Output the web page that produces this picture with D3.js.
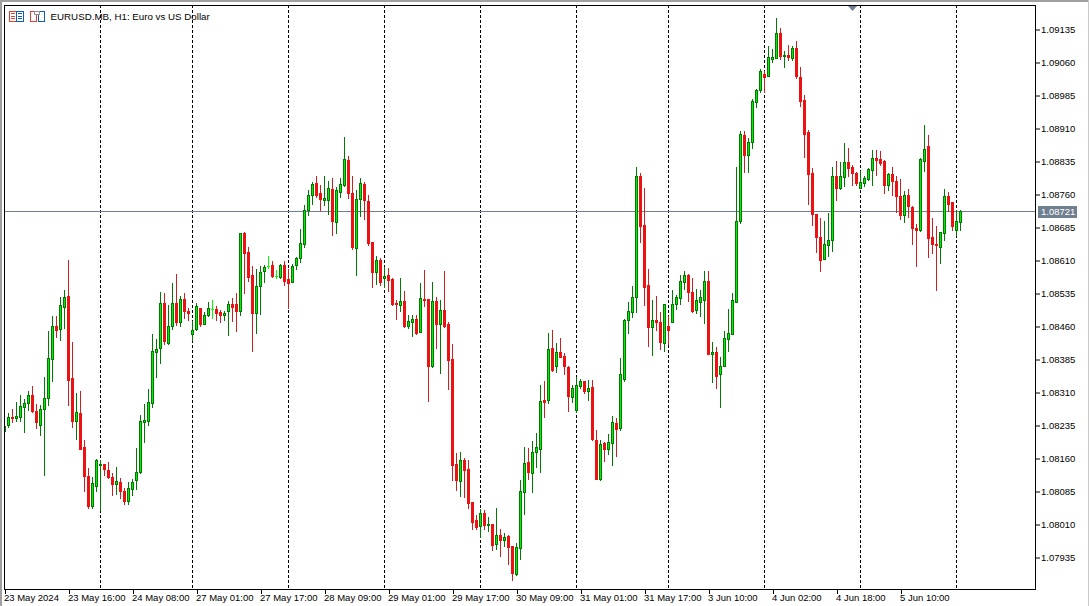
<!DOCTYPE html>
<html>
<head>
<meta charset="utf-8">
<script src="https://cdn.jsdelivr.net/npm/d3@7"></script>
<style>
html, body { margin: 0; padding: 0; background: #fff; overflow: hidden; }
text { font-family: "Liberation Sans", Arial, sans-serif; font-size: 9.5px; fill: #000; }
</style>
</head>
<body>
<script>
var opens = [
1.08222,1.08236,1.08253,1.08252,1.08254,1.08277,1.08284,1.08303,1.08266,1.08236,
1.08271,1.08296,1.08384,1.08459,1.08454,1.08504,1.08528,1.08341,1.08245,1.08262,
1.08184,1.08119,1.08052,1.08097,1.08146,1.08147,1.08133,1.08116,1.08100,1.08105,
1.08084,1.08063,1.08090,1.08109,1.08128,1.08241,1.08245,1.08286,1.08402,1.08409,
1.08512,1.08422,1.08459,1.08512,1.08468,1.08521,1.08494,1.08441,1.08454,1.08502,
1.08465,1.08485,1.08498,1.08498,1.08492,1.08484,1.08493,1.08510,1.08510,1.08493,
1.08671,1.08628,1.08575,1.08490,1.08550,1.08584,1.08596,1.08598,1.08573,1.08572,
1.08598,1.08566,1.08561,1.08598,1.08615,1.08647,1.08723,1.08757,1.08784,1.08762,
1.08747,1.08747,1.08771,1.08697,1.08765,1.08780,1.08837,1.08762,1.08638,1.08748,
1.08782,1.08745,1.08650,1.08583,1.08611,1.08570,1.08577,1.08566,1.08512,1.08508,
1.08516,1.08461,1.08470,1.08475,1.08447,1.08521,1.08521,1.08369,1.08516,1.08465,
1.08496,1.08464,1.08384,1.08146,1.08108,1.08155,1.08134,1.08059,1.08018,1.08006,
1.08034,1.08008,1.08009,1.07965,1.07984,1.07974,1.07982,1.07959,1.07897,1.07955,
1.08083,1.08150,1.08127,1.08174,1.08181,1.08291,1.08291,1.08409,1.08369,1.08400,
1.08391,1.08366,1.08299,1.08268,1.08324,1.08334,1.08313,1.08321,1.08201,1.08113,
1.08194,1.08181,1.08195,1.08240,1.08228,1.08340,1.08474,1.08492,1.08525,1.08800,
1.08689,1.08554,1.08458,1.08473,1.08468,1.08422,1.08461,1.08470,1.08510,1.08524,
1.08561,1.08577,1.08538,1.08497,1.08515,1.08520,1.08563,1.08397,1.08402,1.08350,
1.08370,1.08431,1.08442,1.08515,1.08698,1.08893,1.08849,1.08878,1.08969,1.08996,
1.09033,1.09029,1.09067,1.09070,1.09126,1.09074,1.09076,1.09070,1.09091,1.09027,
1.08973,1.08900,1.08807,1.08714,1.08662,1.08613,1.08645,1.08656,1.08802,1.08774,
1.08799,1.08832,1.08821,1.08808,1.08774,1.08786,1.08794,1.08815,1.08841,1.08839,
1.08834,1.08780,1.08805,1.08789,1.08755,1.08712,1.08757,1.08730,1.08682,1.08678,
1.08836,1.08868,1.08662,1.08646,1.08640,1.08671,1.08755,1.08741,1.08678,1.08697
];
var highs = [
1.08235,1.08262,1.08272,1.08287,1.08303,1.08294,1.08313,1.08324,1.08283,1.08281,
1.08344,1.08449,1.08483,1.08483,1.08526,1.08542,1.08610,1.08424,1.08307,1.08313,
1.08201,1.08137,1.08116,1.08157,1.08156,1.08147,1.08151,1.08125,1.08139,1.08115,
1.08092,1.08105,1.08113,1.08183,1.08258,1.08283,1.08316,1.08442,1.08430,1.08538,
1.08535,1.08508,1.08558,1.08578,1.08528,1.08535,1.08501,1.08471,1.08512,1.08502,
1.08492,1.08515,1.08519,1.08505,1.08496,1.08494,1.08516,1.08524,1.08534,1.08671,
1.08674,1.08640,1.08596,1.08589,1.08597,1.08598,1.08619,1.08608,1.08587,1.08600,
1.08608,1.08589,1.08600,1.08617,1.08680,1.08735,1.08768,1.08787,1.08801,1.08780,
1.08801,1.08790,1.08796,1.08775,1.08796,1.08890,1.08846,1.08801,1.08768,1.08796,
1.08787,1.08758,1.08650,1.08619,1.08614,1.08594,1.08592,1.08568,1.08518,1.08568,
1.08539,1.08484,1.08484,1.08486,1.08557,1.08587,1.08522,1.08561,1.08525,1.08518,
1.08584,1.08468,1.08419,1.08171,1.08173,1.08159,1.08155,1.08061,1.08030,1.08043,
1.08041,1.08026,1.08011,1.08046,1.07998,1.07989,1.07984,1.07960,1.07966,1.08111,
1.08186,1.08182,1.08198,1.08217,1.08327,1.08336,1.08443,1.08450,1.08421,1.08432,
1.08398,1.08368,1.08325,1.08343,1.08339,1.08335,1.08337,1.08337,1.08224,1.08201,
1.08196,1.08214,1.08255,1.08251,1.08387,1.08477,1.08514,1.08551,1.08821,1.08807,
1.08773,1.08589,1.08520,1.08528,1.08492,1.08511,1.08482,1.08541,1.08530,1.08576,
1.08586,1.08579,1.08569,1.08545,1.08541,1.08584,1.08586,1.08423,1.08412,1.08389,
1.08448,1.08498,1.08536,1.08821,1.08903,1.08903,1.08887,1.08976,1.08999,1.09044,
1.09040,1.09096,1.09090,1.09160,1.09137,1.09085,1.09099,1.09096,1.09108,1.09049,
1.08985,1.08906,1.08819,1.08715,1.08705,1.08699,1.08716,1.08821,1.08834,1.08832,
1.08875,1.08864,1.08826,1.08810,1.08812,1.08800,1.08819,1.08860,1.08860,1.08857,
1.08837,1.08807,1.08821,1.08800,1.08793,1.08766,1.08771,1.08732,1.08692,1.08842,
1.08916,1.08894,1.08705,1.08687,1.08674,1.08771,1.08765,1.08742,1.08724,1.08724
];
var lows = [
1.08220,1.08230,1.08241,1.08245,1.08245,1.08218,1.08269,1.08265,1.08229,1.08213,
1.08122,1.08281,1.08336,1.08436,1.08429,1.08455,1.08281,1.08231,1.08204,1.08180,
1.08084,1.08047,1.08047,1.08086,1.08041,1.08122,1.08115,1.08075,1.08078,1.08070,
1.08056,1.08056,1.08075,1.08090,1.08127,1.08197,1.08236,1.08275,1.08345,1.08377,
1.08418,1.08419,1.08454,1.08462,1.08459,1.08479,1.08474,1.08428,1.08451,1.08461,
1.08464,1.08483,1.08479,1.08474,1.08470,1.08474,1.08440,1.08472,1.08449,1.08485,
1.08536,1.08563,1.08404,1.08443,1.08487,1.08560,1.08592,1.08571,1.08568,1.08569,
1.08554,1.08502,1.08560,1.08590,1.08606,1.08640,1.08712,1.08738,1.08754,1.08724,
1.08735,1.08715,1.08667,1.08671,1.08753,1.08779,1.08751,1.08634,1.08576,1.08710,
1.08704,1.08644,1.08549,1.08555,1.08554,1.08549,1.08540,1.08508,1.08476,1.08494,
1.08458,1.08455,1.08437,1.08442,1.08446,1.08505,1.08289,1.08367,1.08410,1.08353,
1.08458,1.08317,1.08110,1.08087,1.08074,1.08071,1.08046,1.07999,1.07998,1.07981,
1.07999,1.07994,1.07951,1.07954,1.07937,1.07960,1.07919,1.07883,1.07895,1.07930,
1.08033,1.08112,1.08083,1.08140,1.08128,1.08253,1.08285,1.08358,1.08355,1.08389,
1.08351,1.08267,1.08287,1.08265,1.08320,1.08307,1.08292,1.08201,1.08112,1.08110,
1.08153,1.08169,1.08144,1.08164,1.08224,1.08335,1.08445,1.08481,1.08492,1.08651,
1.08508,1.08415,1.08395,1.08451,1.08408,1.08404,1.08420,1.08469,1.08499,1.08510,
1.08545,1.08517,1.08491,1.08490,1.08483,1.08467,1.08396,1.08333,1.08320,1.08276,
1.08369,1.08404,1.08441,1.08514,1.08695,1.08810,1.08810,1.08865,1.08957,1.08992,
1.08992,1.09028,1.09060,1.09069,1.09067,1.09049,1.09065,1.09064,1.09024,1.08960,
1.08844,1.08737,1.08690,1.08628,1.08585,1.08612,1.08619,1.08630,1.08746,1.08771,
1.08778,1.08801,1.08780,1.08780,1.08773,1.08778,1.08792,1.08780,1.08803,1.08826,
1.08762,1.08769,1.08758,1.08719,1.08703,1.08696,1.08707,1.08646,1.08596,1.08677,
1.08812,1.08617,1.08626,1.08542,1.08603,1.08656,1.08721,1.08678,1.08666,1.08678
];
var closes = [
1.08233,1.08253,1.08250,1.08256,1.08278,1.08284,1.08303,1.08266,1.08241,1.08271,
1.08296,1.08387,1.08459,1.08451,1.08507,1.08525,1.08338,1.08245,1.08264,1.08181,
1.08118,1.08052,1.08103,1.08155,1.08147,1.08134,1.08116,1.08102,1.08107,1.08086,
1.08063,1.08091,1.08105,1.08128,1.08244,1.08246,1.08287,1.08403,1.08408,1.08512,
1.08427,1.08459,1.08512,1.08468,1.08521,1.08495,1.08489,1.08450,1.08505,1.08465,
1.08484,1.08500,1.08498,1.08490,1.08484,1.08489,1.08511,1.08504,1.08493,1.08671,
1.08627,1.08572,1.08490,1.08550,1.08582,1.08593,1.08596,1.08574,1.08573,1.08598,
1.08563,1.08558,1.08596,1.08614,1.08648,1.08723,1.08757,1.08782,1.08758,1.08749,
1.08752,1.08773,1.08699,1.08768,1.08782,1.08839,1.08763,1.08640,1.08748,1.08784,
1.08746,1.08649,1.08583,1.08609,1.08559,1.08573,1.08565,1.08510,1.08511,1.08516,
1.08461,1.08471,1.08475,1.08443,1.08523,1.08518,1.08369,1.08516,1.08465,1.08496,
1.08460,1.08383,1.08145,1.08110,1.08155,1.08133,1.08058,1.08015,1.08004,1.08034,
1.08008,1.08011,1.07963,1.07984,1.07974,1.07980,1.07958,1.07899,1.07957,1.08084,
1.08148,1.08129,1.08173,1.08184,1.08289,1.08287,1.08407,1.08360,1.08400,1.08390,
1.08368,1.08301,1.08320,1.08325,1.08334,1.08313,1.08320,1.08203,1.08113,1.08192,
1.08180,1.08196,1.08241,1.08227,1.08352,1.08473,1.08495,1.08525,1.08802,1.08688,
1.08549,1.08458,1.08473,1.08469,1.08424,1.08509,1.08451,1.08509,1.08525,1.08563,
1.08575,1.08538,1.08495,1.08518,1.08525,1.08563,1.08397,1.08401,1.08347,1.08370,
1.08432,1.08443,1.08518,1.08698,1.08896,1.08849,1.08878,1.08971,1.08996,1.09040,
1.09026,1.09071,1.09071,1.09127,1.09074,1.09076,1.09071,1.09091,1.09028,1.08971,
1.08897,1.08806,1.08715,1.08662,1.08610,1.08646,1.08655,1.08800,1.08774,1.08800,
1.08832,1.08819,1.08808,1.08785,1.08787,1.08796,1.08816,1.08841,1.08837,1.08831,
1.08780,1.08805,1.08790,1.08755,1.08712,1.08757,1.08733,1.08683,1.08679,1.08839,
1.08862,1.08660,1.08647,1.08643,1.08673,1.08755,1.08737,1.08687,1.08698,1.08721
];

var priceTicks = [1.09135,1.09060,1.08985,1.08910,1.08835,1.08760,1.08685,1.08610,1.08535,1.08460,1.08385,1.08310,1.08235,1.08160,1.08085,1.08010,1.07935];
var timeTickBars = [0,16,32,48,64,80,96,112,128,144,160,176,192,208,224];
var timeTickLabels = ["23 May 2024","23 May 16:00","24 May 08:00","27 May 01:00","27 May 17:00","28 May 09:00","29 May 01:00","29 May 17:00","30 May 09:00","31 May 01:00","31 May 17:00","3 Jun 10:00","4 Jun 02:00","4 Jun 18:00","5 Jun 10:00"];
// first bar of each trading day
var dayStartBars = [24,47,71,95,119,143,166,190,214,238];
var lastPrice = 1.08721;
var title = "EURUSD.MB, H1:  Euro vs US Dollar";

var width = 1089,
    height = 606,
    left = 4,
    top_ = 5,
    right = 1035,
    bottom = 589;

var upWick = "#007a00", upBody = "#00ee00", dojiColor = "#00ff00",
    downWick = "#cc1f1f", downBody = "#ee1111", slate = "#708090";

var svg = d3.select("body").append("svg")
    .attr("width", width)
    .attr("height", height)
    .style("display", "block");

svg.append("clipPath").attr("id", "plot").append("rect")
    .attr("x", left + 1)
    .attr("y", top_ + 1)
    .attr("width", right - left - 1)
    .attr("height", bottom - top_ - 1);

var x = d3.scaleLinear().domain([0, 239]).range([4, 960]);
var y = d3.scaleLinear().domain([1.07935, 1.09135]).range([557, 29]);

// window edges
svg.append("rect").attr("width", 2).attr("height", height).attr("fill", "#a0a0a0");
svg.append("rect").attr("width", width).attr("height", 2).attr("fill", "#a0a0a0");
svg.append("rect").attr("x", 1088).attr("width", 1).attr("height", height).attr("fill", "#c8c8c8");

// day separators
svg.selectAll(".sep").data(dayStartBars).enter().append("line")
    .attr("class", "sep")
    .attr("x1", d => x(d) + 0.5)
    .attr("x2", d => x(d) + 0.5)
    .attr("y1", top_)
    .attr("y2", bottom)
    .attr("stroke", "#000")
    .attr("stroke-dasharray", "3,2");

// current price line
svg.append("line")
    .attr("x1", left)
    .attr("x2", right)
    .attr("y1", Math.round(y(lastPrice)) + 0.5)
    .attr("y2", Math.round(y(lastPrice)) + 0.5)
    .attr("stroke", slate);

// candles
var bars = d3.range(opens.length);
var candle = svg.append("g")
    .attr("shape-rendering", "crispEdges")
    .attr("clip-path", "url(#plot)")
    .selectAll("g").data(bars).enter().append("g");

function isDoji(i) { return opens[i] === closes[i]; }
function isUp(i) { return closes[i] >= opens[i]; }
function bodyTop(i) { return Math.round(y(Math.max(opens[i], closes[i]))); }
function bodyBottom(i) { return Math.round(y(Math.min(opens[i], closes[i]))); }
function wickColor(i) { return isDoji(i) ? dojiColor : (isUp(i) ? upWick : downWick); }

candle.append("rect")
    .attr("x", i => x(i))
    .attr("width", 1)
    .attr("y", i => Math.round(y(highs[i])))
    .attr("height", i => Math.round(y(lows[i])) - Math.round(y(highs[i])) + 1)
    .attr("fill", wickColor);

candle.filter(i => !isDoji(i)).append("rect")
    .attr("x", i => x(i) - 0.5)
    .attr("width", 2)
    .attr("y", i => bodyTop(i) + 0.5)
    .attr("height", i => Math.max(bodyBottom(i) - bodyTop(i), 1))
    .attr("fill", i => isUp(i) ? upBody : downBody)
    .attr("stroke", i => isUp(i) ? upWick : downBody)
    .attr("stroke-width", 1);

candle.filter(isDoji).append("rect")
    .attr("x", i => x(i) - 1)
    .attr("width", 3)
    .attr("y", bodyTop)
    .attr("height", 1)
    .attr("fill", dojiColor);

// frame
svg.append("rect")
    .attr("x", left + 0.5)
    .attr("y", top_ + 0.5)
    .attr("width", right - left)
    .attr("height", bottom - top_)
    .attr("fill", "none")
    .attr("stroke", "#000");

// axes
var yAxis = d3.axisRight(y)
    .tickValues(priceTicks)
    .tickFormat(d => d.toFixed(5))
    .tickSize(4)
    .tickPadding(1);
var gy = svg.append("g").attr("transform", "translate(" + (right + 1) + ",0.5)").call(yAxis);
gy.select(".domain").remove();
gy.selectAll("text").style("font-size", "9.5px");

var xAxis = d3.axisBottom(x)
    .tickValues(timeTickBars)
    .tickFormat((d, i) => timeTickLabels[i])
    .tickSize(4)
    .tickPadding(0);
var gx = svg.append("g").attr("transform", "translate(0.5," + (bottom + 1) + ")").call(xAxis);
gx.select(".domain").remove();
gx.selectAll("text").attr("text-anchor", "start").attr("x", -1).style("font-size", "9.5px");
gx.selectAll("line, text").attr("shape-rendering", "crispEdges");

// price tag
svg.append("rect")
    .attr("x", 1038)
    .attr("y", Math.round(y(lastPrice)) - 5)
    .attr("width", 39)
    .attr("height", 12)
    .attr("fill", slate);
svg.append("text")
    .attr("x", 1041)
    .attr("y", y(lastPrice) + 3.5)
    .style("fill", "#fff")
    .text(lastPrice.toFixed(5));

// marker at the top
svg.append("path")
    .attr("d", "M848,6H857L852.5,11Z")
    .attr("fill", slate);

// title icons
var icon = svg.append("g").attr("shape-rendering", "crispEdges");
function box(px, py, w, h, color) {
    icon.append("rect").attr("x", px + 0.5).attr("y", py + 0.5).attr("width", w).attr("height", h)
        .attr("fill", "#fff").attr("stroke", color);
}
function bar(px, py, w, color) {
    icon.append("rect").attr("x", px).attr("y", py).attr("width", w).attr("height", 1).attr("fill", color);
}
box(9, 11, 7, 10, "#e04030");
box(16, 11, 7, 10, "#1060b0");
[13, 16, 18].forEach(function(py) {
    bar(11, py, 4, "#e04030");
    bar(18, py, 4, "#1060b0");
});
box(30, 11, 6, 10, "#e04030");
box(38, 11, 6, 10, "#1060b0");
box(34, 11, 5, 3, "#909090");

svg.append("text")
    .attr("x", 50.5)
    .attr("y", 20)
    .style("font-size", "9.75px")
    .text(title);
</script>
</body>
</html>
